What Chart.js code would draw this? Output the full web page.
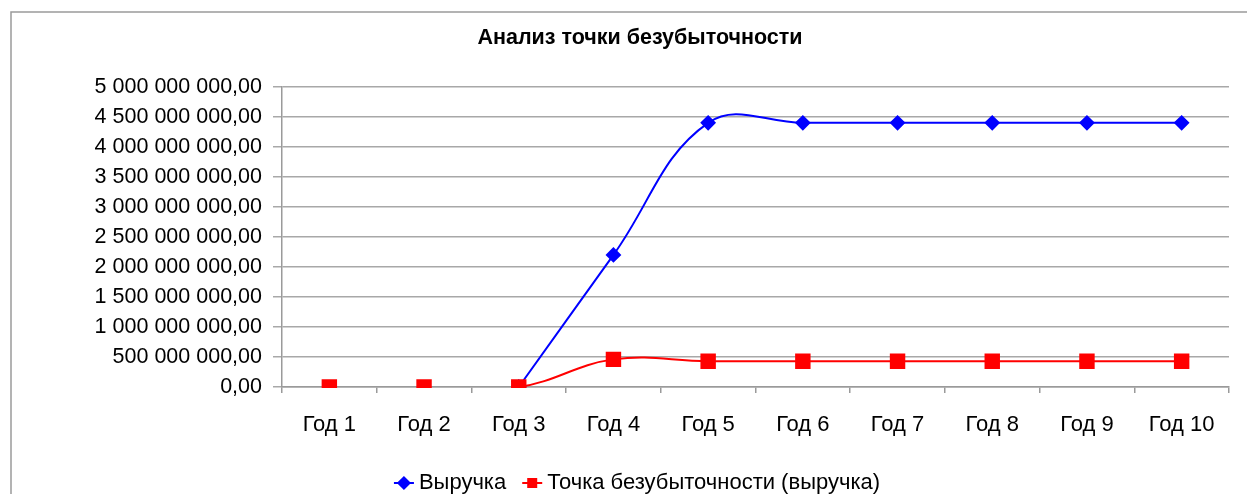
<!DOCTYPE html>
<html>
<head>
<meta charset="utf-8">
<script src="https://cdn.jsdelivr.net/npm/chart.js@4"></script>
<style>
  html, body { margin: 0; padding: 0; background: #fff; }
  #wrap { width: 1247px; height: 494px; position: relative; }
</style>
</head>
<body>
<div id="wrap"><canvas id="breakEvenChart"></canvas></div>
<script>
const years = ['Год 1', 'Год 2', 'Год 3', 'Год 4', 'Год 5', 'Год 6', 'Год 7', 'Год 8', 'Год 9', 'Год 10'];
const revenue = [null, null, 0, 2200000000, 4400000000, 4400000000, 4400000000, 4400000000, 4400000000, 4400000000];
const breakEven = [0, 0, 0, 460000000, 430000000, 430000000, 430000000, 430000000, 430000000, 430000000];
const yMax = 5000000000;
const yStep = 500000000;

const FONT = 'Liberation Sans, Arial, sans-serif';

// first two years have no line in the original, only markers
function hideEarly(color) {
    return function (ctx) {
        return ctx.p0DataIndex < 2 ? 'rgba(0,0,0,0)' : color;
    };
}

function fmtMoney(v) {
    var s = Math.round(v).toString().replace(/\B(?=(\d{3})+(?!\d))/g, ' ');
    return s + ',00';
}

// excel-like outer frame + lines through legend markers
const frame = {
    id: 'frame',
    beforeDraw(chart) {
        const c = chart.ctx;
        c.save();
        c.fillStyle = '#fff';
        c.fillRect(0, 0, chart.width, chart.height);
        c.strokeStyle = '#9a9a9a';
        c.lineWidth = 1.5;
        c.strokeRect(11, 12, 1400, 700);
        c.restore();
    },
    afterDraw(chart) {
        const lg = chart.legend;
        if (!lg || !lg.legendHitBoxes) return;
        const c = chart.ctx;
        c.save();
        lg.legendItems.forEach(function (item, i) {
            const hb = lg.legendHitBoxes[i];
            const ds = chart.data.datasets[item.datasetIndex];
            const cx = hb.left + 4;
            const cy = hb.top + hb.height / 2;
            c.strokeStyle = ds.borderColor;
            c.lineWidth = 2;
            c.beginPath();
            c.moveTo(cx - 10, cy);
            c.lineTo(cx + 10, cy);
            c.stroke();
        });
        c.restore();
    }
};

var ctx = document.getElementById('breakEvenChart').getContext('2d');
new Chart(ctx, {
    type: 'line',
    data: {
        labels: years,
        datasets: [{
            label: 'Выручка',
            data: revenue,
            order: 1,
            borderColor: '#0000ff',
            backgroundColor: '#0000ff',
            borderWidth: 2,
            pointStyle: 'rectRot',
            pointRadius: 6.5,
            pointHoverRadius: 6.5,
            tension: 0.4,
            spanGaps: false,
            clip: { left: 20, top: 20, right: 20, bottom: 1 }
        }, {
            label: 'Точка безубыточности (выручка)',
            data: breakEven,
            order: 0,
            borderColor: '#ff0000',
            backgroundColor: '#ff0000',
            borderWidth: 2,
            pointStyle: 'rect',
            pointRadius: 9.5,
            pointHoverRadius: 9.5,
            tension: 0.4,
            clip: { left: 20, top: 20, right: 20, bottom: 1 },
            segment: { borderColor: hideEarly('#ff0000') }
        }]
    },
    options: {
        responsive: true,
        maintainAspectRatio: false,
        animation: false,
        layout: { padding: { left: 51, right: 18, top: 0, bottom: -10 } },
        plugins: {
            title: {
                display: true,
                text: 'Анализ точки безубыточности',
                color: '#000',
                font: { family: FONT, size: 21.5, weight: 'bold' },
                padding: { top: 25, bottom: 36 }
            },
            legend: {
                position: 'bottom',
                labels: {
                    usePointStyle: true,
                    boxWidth: 8,
                    boxHeight: 8,
                    padding: 22,
                    color: '#000',
                    font: { family: FONT, size: 22 },
                    sort: function (a, b) { return a.datasetIndex - b.datasetIndex; }
                }
            },
            tooltip: { enabled: false }
        },
        scales: {
            x: {
                offset: true,
                grid: {
                    offset: true,
                    drawOnChartArea: false,
                    drawTicks: true,
                    tickLength: 6,
                    color: '#9a9a9a',
                    lineWidth: 1.5
                },
                border: { color: '#9a9a9a', width: 1.5 },
                ticks: {
                    color: '#000',
                    padding: 19,
                    maxRotation: 0,
                    font: { family: FONT, size: 22 }
                },
                afterFit: function (scale) { scale.height = 63; }
            },
            y: {
                min: 0,
                max: yMax,
                grid: {
                    color: '#a8a8a8',
                    lineWidth: 1.5,
                    tickLength: 9
                },
                border: { color: '#9a9a9a', width: 1.5 },
                ticks: {
                    stepSize: yStep,
                    color: '#000',
                    padding: 11,
                    font: { family: FONT, size: 21.5 },
                    callback: function (v) { return fmtMoney(v); }
                },
                afterFit: function (scale) { scale.width = 231; }
            }
        }
    },
    plugins: [frame]
});
</script>
</body>
</html>
